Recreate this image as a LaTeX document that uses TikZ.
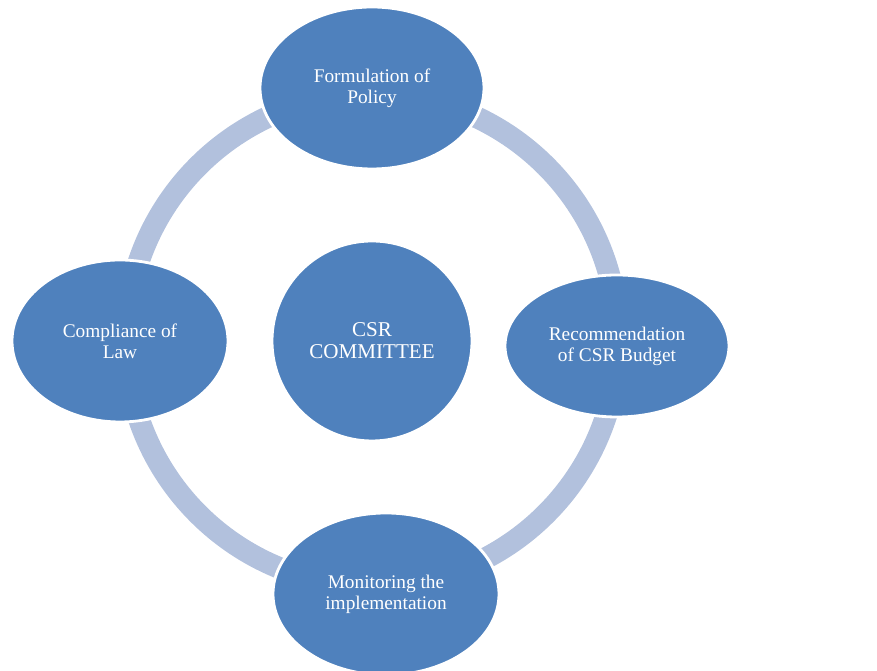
\documentclass[tikz,border=0pt]{standalone}
\usepackage{fontspec}
\setmainfont{Liberation Serif}
\usetikzlibrary{shapes}
\definecolor{csrblue}{HTML}{4F81BD}
\definecolor{ringblue}{HTML}{B2C1DD}
\tikzstyle{stage} = [ellipse,fill=csrblue,draw=white,line width=1.6pt,
text=white,align=center,inner sep=0pt,
font=\fontsize{11}{12}\selectfont]
\tikzstyle{hub} = [stage,circle,font=\fontsize{12}{12.5}\selectfont]
\tikzstyle{ring} = [draw=ringblue,line width=12.4pt]
\begin{document}
\begin{tikzpicture}[x=0.02cm,y=-0.02cm]
  \useasboundingbox (0,0) rectangle (877,671);
  \coordinate (c) at (372,340);
  \draw[ring] (c) circle [radius=246];

  \node[hub, minimum size=200*0.02cm] (csr) at (372,341) {CSR\\COMMITTEE};
  \node[stage, minimum width=224*0.02cm, minimum height=162*0.02cm] (policy) at (372,88) {Formulation of\\Policy};
  \node[stage, minimum width=224*0.02cm, minimum height=142*0.02cm] (budget) at (617,346) {Recommendation\\of CSR Budget};
  \node[stage, minimum width=216*0.02cm, minimum height=162*0.02cm] (law) at (120,341) {Compliance of\\Law};
  \node[stage, minimum width=226*0.02cm, minimum height=162*0.02cm] (monitor) at (386,594) {Monitoring the\\implementation};
\end{tikzpicture}
\end{document}
